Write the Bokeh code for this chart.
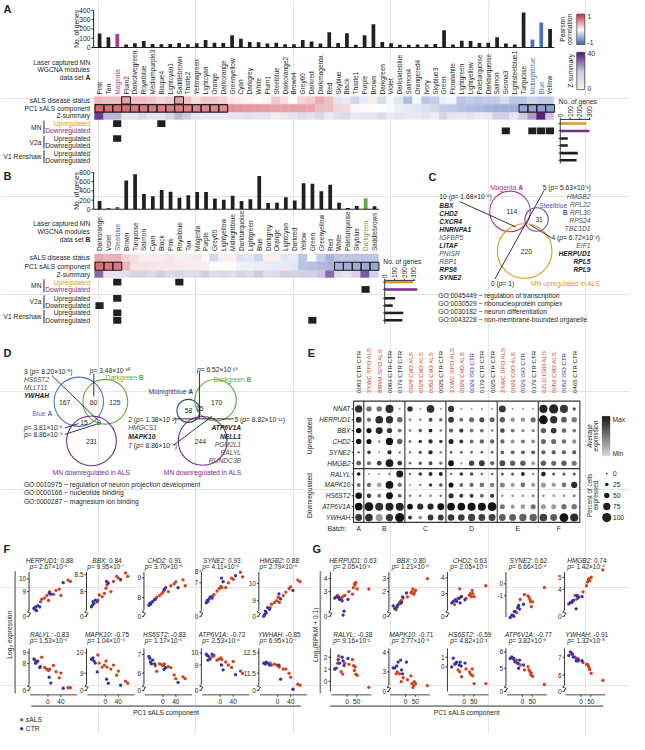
import numpy as np
from bokeh.plotting import figure
from bokeh.models import Range1d, ColumnDataSource, LinearInterpolator
from bokeh.transform import linear_cmap, transform
from bokeh.core.properties import value
from bokeh.embed import file_html
from bokeh.resources import INLINE

# ======================= DATA =======================
modules_A = ["Pink","Tan","Magenta","Plum2","Darkolivegreen","Royalblue","Mediumpurple3","Bisque4","Lightcyan1","Saddlebrown","Thistle2","Yellowgreen","Lightcyan","Orange","Darkorange","Greenyellow","Cyan","Darkgrey","White","Plum1","Steelblue","Darkorange2","Brown4","Grey60","Darkred","Darkmagenta","Red","Skyblue","Black","Thistle1","Purple","Brown","Darkgreen","Violet","Darkslateblue","Salmon4","Orangered4","Ivory","Skyblue3","Green","Floralwhite","Lightgreen","Lightyellow","Paleturquoise","Darkturquoise","Salmon","Sienna3","Lightsteelblue1","Turquoise","Midnightblue","Blue","Yellow"]
genes_A = [150,111,146,31,45,70,38,35,38,49,35,45,80,52,49,132,94,59,56,42,52,35,35,80,63,42,163,49,153,28,132,250,59,45,28,28,31,31,38,184,31,73,70,49,52,111,42,31,376,87,268,198]
pc1_A = [0.72,0.71,0.70,0.68,0.67,0.66,0.65,0.64,0.63,0.62,0.61,0.60,0.59,0.58,0.57,0.52,0.50,0.49,0.48,0.47,0.46,0.45,0.44,0.43,0.42,0.32,0.30,0.20,0.18,0.05,0.03,0.02,0.00,-0.04,-0.10,-0.13,-0.16,-0.19,-0.24,-0.30,-0.33,-0.38,-0.40,-0.42,-0.45,-0.47,-0.48,-0.50,-0.55,-0.56,-0.57,-0.58]
sals_A = [0.35,0.30,0.30,0.45,0.30,0.30,0.28,0.20,0.25,0.45,0.30,0.15,0.25,0.25,0.22,0.12,0.08,0.05,0.02,0.05,0.25,0.15,0.02,0.20,0.25,0.40,0.30,-0.15,-0.12,-0.25,-0.12,0.10,-0.20,-0.05,-0.15,-0.40,-0.05,-0.35,-0.30,-0.10,-0.05,-0.35,-0.30,-0.35,-0.30,-0.30,-0.20,-0.35,-0.35,-0.25,-0.30,-0.30]
zsum_A = [35,22,22,8,8,12,8,8,14,22,18,8,6,6,6,7,8,9,7,8,3,5,8,12,9,13,6,9,10,6,7,7,10,5,7,6,6,8,5,14,8,6,8,5,6,16,16,7,18,25,38,20]
squares_A = [[2, 7], [46, 49, 50, 51], [2], [], [], []]
box_pc1_A = list(range(15)) + [48, 49, 50, 51]
box_sals_A = [3, 9]
counts_A = [267, 300, 77, 77, 180, 167]

modules_B = ["Darkorange","Violet","Steelblue","Brown","Turquoise","Salmon","Cyan","Black","Pink","Royalblue","Tan","Magenta","Purple","Grey60","Lightyellow","Midnightblue","Darkturquoise","Lightgreen","Blue","Darkgrey","Orange","Lightcyan","Darkred","Yellow","Green","Greenyellow","Red","White","Paleturquoise","Skyblue","Darkgreen","Saddlebrown"]
genes_B = [177,21,50,624,759,333,284,418,383,248,305,376,376,234,206,291,177,220,723,135,142,262,191,567,553,390,532,142,28,71,241,64]
pc1_B = [0.68,0.67,0.66,0.35,0.15,0.14,0.13,0.12,0.12,0.11,0.10,0.10,0.08,0.03,0.02,-0.02,-0.08,-0.09,-0.10,-0.11,-0.12,-0.13,-0.15,-0.36,-0.38,-0.42,-0.45,-0.48,-0.49,-0.50,-0.51,-0.52]
sals_B = [0.40,0.35,0.38,0.20,0.15,0.10,0.10,0.10,0.12,-0.08,0.10,0.12,0.02,-0.22,0.10,0.08,-0.18,-0.15,-0.25,0.08,0.08,-0.15,-0.12,-0.35,-0.02,-0.30,-0.45,-0.35,-0.35,-0.35,-0.35,-0.35]
zsum_B = [30,8,8,10,14,14,12,16,12,14,10,12,16,10,12,10,14,12,18,10,10,16,14,16,16,20,30,12,8,14,32,16]
squares_B = [[2, 9], [30], [2], [0], [2], [2, 24]]
box_pc1_B = [0, 1, 2, 27, 28, 29, 30, 31]
counts_B = [290, 334, 107, 82, 190, 180]

E_samples = ["0083 CTR CTR","2XWC SPO ALS","88RM SPO ALS","0083 CTR CTR","0179 CTR CTR","0028 C9O ALS","0028 C9O ALS","0052 C9O ALS","0025 CTR CTR","2XWC SPO ALS","0029 C9O ALS","0029 ISO CTR","0179 CTR CTR","0025 CTR CTR","2XWC SPO ALS","0029 C9O ALS","0029 ISO CTR","0179 CTR CTR","6ZLD C9O ALS","0052 C9O ALS","0052 ISO CTR","0465 CTR CTR"]
E_batches = ["A", "B", "C", "D", "E", "F"]
E_batch_sizes = [1, 4, 4, 5, 4, 4]
E_genes = ["NNAT","HERPUD1","BBX","CHD2","SYNE2","HMGB2","RALYL","MAPK10","HS6ST2","ATP6V1A","YWHAH"]
E_pct = {
 "NNAT":   [75,50,50,85,5,50,5,80,5,60,5,5,5,5,70,5,5,5,85,100,85,20],
 "HERPUD1":[55,35,80,75,50,15,15,30,25,55,30,45,45,45,50,35,35,45,95,75,55,50],
 "BBX":    [50,45,70,50,30,15,25,30,15,35,35,30,30,15,40,30,20,20,50,55,40,30],
 "CHD2":   [50,45,10,75,50,15,25,35,25,45,30,30,35,35,35,30,30,30,45,45,40,35],
 "SYNE2":  [10,25,5,35,10,10,20,35,10,15,15,15,15,15,30,30,30,30,35,35,35,35],
 "HMGB2":  [40,30,40,80,40,15,25,30,20,55,10,50,55,35,55,50,50,30,50,45,50,45],
 "RALYL":  [25,5,5,15,70,10,25,30,30,10,25,25,15,15,20,20,30,10,40,20,20,20],
 "MAPK10": [30,35,40,80,35,5,10,25,25,45,30,35,40,35,45,35,40,35,45,35,40,60],
 "HS6ST2": [65,40,30,70,30,10,10,10,10,45,30,30,30,35,10,10,10,15,10,10,10,15],
 "ATP6V1A":[80,95,85,85,85,55,60,60,70,80,80,85,85,95,45,35,40,45,45,45,50,50],
 "YWHAH":  [70,80,75,75,100,30,30,55,55,65,65,75,70,70,70,70,75,75,80,70,95,85]}
E_expr = {
 "NNAT":   [0.85,0.5,0.5,0.85,0.3,0.85,0.3,0.85,0.3,0.8,0.3,0.3,0.3,0.3,0.8,0.3,0.3,0.3,0.9,0.9,0.8,0.7],
 "HERPUD1":[0.85,0.5,0.85,0.85,0.55,0.35,0.35,0.7,0.55,0.8,0.5,0.55,0.7,0.6,0.6,0.35,0.35,0.55,1.0,0.85,0.6,0.45],
 "BBX":    [1.0,1.0,0.9,0.8,0.5,0.4,0.6,0.9,0.4,0.6,0.8,0.5,0.5,0.4,0.7,0.5,0.4,0.4,0.6,0.8,0.55,0.45],
 "CHD2":   [1.0,1.0,0.4,1.0,0.6,0.5,0.8,0.85,0.8,0.9,0.8,0.55,0.6,0.6,0.55,0.35,0.5,0.35,0.55,0.55,0.5,0.35],
 "SYNE2":  [0.6,0.8,0.3,0.9,0.5,0.5,0.7,0.9,0.5,0.6,0.6,0.6,0.6,0.6,0.6,0.6,0.6,0.6,0.6,0.6,0.6,0.6],
 "HMGB2":  [0.6,0.5,0.8,0.95,0.8,0.5,0.6,0.7,0.5,1.0,0.3,0.75,0.8,0.55,0.7,0.6,0.6,0.3,0.6,0.55,0.6,0.5],
 "RALYL":  [1.0,0.3,0.3,0.4,0.95,0.5,0.8,0.9,0.9,0.5,0.8,0.7,0.5,0.5,0.6,0.6,0.85,0.4,0.9,0.6,0.6,0.6],
 "MAPK10": [0.5,0.55,0.25,1.0,0.5,0.3,0.4,0.8,0.7,1.0,0.55,0.55,0.5,0.5,0.4,0.3,0.5,0.3,0.3,0.3,0.5,0.85],
 "HS6ST2": [1.0,0.8,0.5,1.0,0.55,0.5,0.5,0.5,0.5,0.85,0.8,0.8,0.55,0.8,0.4,0.4,0.4,0.5,0.4,0.4,0.4,0.5],
 "ATP6V1A":[1.0,1.0,0.85,0.9,0.9,1.0,0.85,0.9,1.0,1.0,1.0,1.0,1.0,1.0,0.5,0.3,0.3,0.5,0.3,0.3,0.5,0.5],
 "YWHAH":  [0.8,0.85,0.3,0.8,1.0,0.8,0.3,0.8,0.8,0.8,0.8,0.75,0.75,0.75,0.6,0.6,0.6,0.6,0.75,0.6,1.0,0.85]}
E_size_legend = [0, 25, 50, 75, 100]

scatter_genes = ["HERPUD1","BBX","CHD2","SYNE2","HMGB2","RALYL","MAPK10","HS6ST2","ATP6V1A","YWHAH"]
F_r = [0.88, 0.84, 0.91, 0.93, 0.88, -0.83, -0.75, -0.83, -0.72, -0.85]
F_p = ["2.67×10⁻⁶","9.95×10⁻⁷","3.70×10⁻⁶","4.11×10⁻⁶","2.79×10⁻⁶","1.53×10⁻⁶","1.04×10⁻⁴","1.17×10⁻⁶","2.53×10⁻⁴","6.95×10⁻⁷"]
F_ticks = [[10, 9], [8.5, 8], [9, 8], [8, 7], [10, 9], [9, 8], [10, 9], [7, 6], [10, 9], [12.5, 11.5]]
F_ctr_x = [-43, -40, -38, -35, -31, -25, 4, 9, 47]
F_als_x = [-23, -19, -10, -3, 2, 5, 17, 25, 35, 40, 62, 69]
F_ctr_y = {
 "HERPUD1":[7.7,7.6,7.8,7.5,7.9,7.8,8.9,8.8,9.7], "BBX":[7.55,7.6,7.7,7.65,7.75,7.7,8.3,8.25,8.35],
 "CHD2":[7.6,7.7,7.65,7.75,7.8,7.9,8.4,8.5,8.5], "SYNE2":[5.3,5.5,5.4,5.6,5.8,5.7,7.4,7.1,7.6],
 "HMGB2":[8.1,8.2,8.4,8.3,8.6,8.5,9.4,9.1,9.6], "RALYL":[8.44,8.31,8.0,8.12,8.22,7.6,6.66,6.1,5.6],
 "MAPK10":[9.7,9.68,9.76,9.6,9.5,9.06,8.7,8.5,8.4], "HS6ST2":[6.9,6.8,6.6,6.5,6.7,6.5,6.2,6.3,5.5],
 "ATP6V1A":[9.9,9.8,9.4,9.7,9.5,9.9,9.0,8.6,8.2], "YWHAH":[12.0,12.0,11.95,12.05,12.0,11.9,11.9,11.2,10.7]}
F_als_y = {
 "HERPUD1":[8.2,8.4,8.5,8.7,8.3,9.0,8.8,9.1,9.2,8.7,9.9,9.8], "BBX":[7.75,7.9,7.85,7.95,8.1,8.2,8.0,8.3,8.45,8.4,8.55,8.45],
 "CHD2":[7.9,8.0,8.1,8.2,8.3,8.4,8.3,8.6,8.7,8.8,8.9,8.6], "SYNE2":[5.9,6.0,6.3,6.5,6.7,6.6,6.6,7.0,7.4,7.3,7.9,7.5],
 "HMGB2":[8.6,8.8,8.9,9.0,9.2,8.9,9.3,9.5,9.7,9.8,10.2,10.1], "RALYL":[7.7,8.6,7.6,7.44,7.3,7.44,7.8,7.2,6.6,7.06,5.65,5.65],
 "MAPK10":[9.9,9.5,9.3,9.4,9.6,9.3,9.2,9.4,8.9,9.1,8.6,8.5], "HS6ST2":[6.4,6.1,6.5,6.45,6.4,6.5,6.35,6.3,5.9,5.7,5.8,5.7],
 "ATP6V1A":[9.7,9.8,9.4,9.5,9.6,9.45,9.25,9.0,8.8,9.3,8.5,8.3], "YWHAH":[12.0,11.9,11.95,11.9,11.85,11.8,11.7,11.7,11.5,11.3,10.95,10.9]}

G_r = [0.63, 0.80, 0.63, 0.62, 0.74, -0.38, -0.71, -0.59, -0.77, -0.91]
G_p = ["2.05×10⁻³","1.21×10⁻⁵","2.05×10⁻³","6.66×10⁻⁴","1.42×10⁻⁴","9.16×10⁻²","2.77×10⁻⁴","4.82×10⁻³","3.82×10⁻⁵","1.32×10⁻⁸"]
G_ticks = [[4, 3], [3, 2], [4, 3], [0, -1], [5, 4], [2, 1, 0], [4, 3], [1, 0], [6, 5], [7, 6]]
G_ctr_x = [-63, -55, -45, -38, -25, -20, -15, 5]
G_als_x = [-48, -42, -30, -22, -12, 10, 28, 33, 38, 42, 45, 52, 112]
G_ctr_y = {
 "HERPUD1":[2.5,2.6,2.55,2.4,2.3,1.2,1.5,2.4], "BBX":[0.9,0.7,0.8,1.0,1.1,1.2,1.6,1.9],
 "CHD2":[2.4,2.5,2.6,2.5,2.7,2.4,2.8,2.6], "SYNE2":[-2.8,-2.6,-2.7,-2.3,-2.0,-1.8,-2.1,-1.7],
 "HMGB2":[2.8,2.9,3.0,3.1,2.4,3.5,3.3,3.4], "RALYL":[1.0,1.1,1.8,1.5,2.0,1.7,1.3,1.9],
 "MAPK10":[3.2,3.2,3.3,3.5,3.6,3.1,2.9,3.5], "HS6ST2":[0.0,0.9,0.3,0.5,0.2,0.5,0.1,0.4],
 "ATP6V1A":[5.6,5.7,5.6,5.4,5.3,5.0,5.5,5.2], "YWHAH":[7.1,7.3,7.2,7.0,6.8,6.8,6.9,6.8]}
G_als_y = {
 "HERPUD1":[2.7,2.6,2.5,2.6,2.7,3.0,2.8,3.3,3.6,3.5,3.7,3.2,3.2], "BBX":[0.6,0.9,1.2,1.3,1.5,1.6,1.9,2.0,2.2,1.8,1.9,2.1,3.0],
 "CHD2":[2.3,2.6,2.7,3.3,2.8,2.7,2.9,3.0,2.8,3.2,3.0,2.8,3.5], "SYNE2":[-2.6,-2.3,-2.4,-1.9,-1.3,-0.9,-1.0,-1.1,-1.3,-1.5,-1.9,-1.5,-0.3],
 "HMGB2":[2.9,3.1,3.5,3.2,3.4,3.8,4.3,4.6,4.8,4.9,4.7,5.0,5.6], "RALYL":[1.5,2.1,0.8,0.6,1.5,1.4,1.8,1.3,0.9,1.2,0.6,0.5,-0.5],
 "MAPK10":[2.9,3.0,2.9,2.5,2.7,2.6,2.8,2.4,2.2,2.3,2.5,2.4,2.3], "HS6ST2":[0.3,0.4,-0.3,-0.5,-1.0,-0.2,-0.5,-0.7,-0.8,-0.2,-0.9,-1.7,-1.7],
 "ATP6V1A":[5.6,5.5,5.5,5.3,5.2,4.9,5.1,4.9,4.8,4.6,4.7,4.5,4.0], "YWHAH":[7.2,7.1,7.0,6.9,6.8,6.7,6.6,6.6,6.5,6.4,6.3,6.1,5.7]}

# ======================= STYLE =======================
FONT = value("Liberation Sans")
FS = 6.7
LET = 11
INK = "#231f20"
GREYTXT = "#4d4d4d"
ORANGE = "#d99a22"
PURPLE = "#7b2a8e"
MAG = "#b23a8e"
SBL = "#5652b0"
BLUEA = "#4a72c4"
NAVY = "#2e3f82"
GRN = "#68a83c"
RED_PT = "#d2401f"
BLUE_PT = "#3434a8"
UX = 645.0 / 629.0


def ramp(stops, n=256):
    out = []
    k = len(stops) - 1
    for i in range(n):
        t = i / (n - 1) * k
        j = min(int(t), k - 1)
        f = t - j
        c = [int(round(stops[j][m] + (stops[j + 1][m] - stops[j][m]) * f)) for m in range(3)]
        out.append("#%02x%02x%02x" % tuple(c))
    return out


RWB = ramp([(59, 91, 176), (255, 255, 255), (200, 48, 63)])
PUR = ramp([(246, 246, 246), (205, 195, 225), (72, 18, 118)])
GRY = ramp([(214, 214, 214), (18, 18, 18)])

p = figure(width=629, height=734, x_range=Range1d(0, 645), y_range=Range1d(750, 0),
           output_backend="svg", toolbar_location=None, min_border=0,
           x_axis_location=None, y_axis_location=None)
p.outline_line_color = None
p.background_fill_color = "white"

CW = {'A':667,'B':667,'C':722,'D':722,'E':667,'F':611,'G':778,'H':722,'I':278,'J':500,'K':667,'L':556,'M':833,'N':722,'O':778,'P':667,'Q':778,'R':722,'S':667,'T':611,'U':722,'V':667,'W':944,'X':667,'Y':667,'Z':611,
      'a':556,'b':556,'c':500,'d':556,'e':556,'f':278,'g':556,'h':556,'i':222,'j':222,'k':500,'l':222,'m':833,'n':556,'o':556,'p':556,'q':556,'r':333,'s':500,'t':278,'u':556,'v':500,'w':722,'x':500,'y':500,'z':500,
      ' ':278,':':278,'.':278,'-':333,'(':333,')':333,'=':584,'×':584,'~':584,'+':584}


def tw(s, size):
    w = 0
    for ch in s:
        if ch in CW:
            w += CW[ch]
        elif ch.isdigit() and ch.isascii():
            w += 556
        else:
            w += 360
    return w * size / 1000.0


def Tx(g, x, y, t, size=FS, align="left", base="middle", color=INK, style="normal", angle=0.0):
    if isinstance(t, str):
        x, y, t = [x], [y], [t]
    n = len(t)
    cols = list(color) if isinstance(color, list) else [color] * n
    src = ColumnDataSource(dict(x=[float(v) for v in x], y=[float(v) for v in y], t=list(t), c=cols))
    g.text(x="x", y="y", text="t", source=src, text_font=FONT, text_font_size=f"{size}px",
           text_align=align, text_baseline=base, text_color="c", text_font_style=style, angle=angle)


def rich(parts, x, y, align="left", size=FS):
    widths = [tw(t, size) * (1.07 if "bold" in st else 1.0) * UX for t, st, c in parts]
    total = sum(widths)
    start = x if align == "left" else (x - total / 2 if align == "center" else x - total)
    for (t, st, c), w in zip(parts, widths):
        Tx(p, start, y, t, size=size, style=st, color=c)
        start += w


def seg(pts, color=INK, width=1.0):
    p.segment(x0=[a[0] for a in pts], y0=[a[1] for a in pts], x1=[a[2] for a in pts], y1=[a[3] for a in pts],
              line_color=color, line_width=width)


def ident(xs, xt):
    return p.subplot(x_source=Range1d(*xs), x_target=Range1d(*xt), y_source=Range1d(0, 750), y_target=Range1d(0, 750))


def gradient(x0, x1, ytop, ybot, lo, hi, pal, border=True):
    n = 64
    step = (hi - lo) / n
    bot = [lo + i * step for i in range(n)]
    g = p.subplot(x_source=Range1d(0, 1), x_target=Range1d(x0, x1), y_source=Range1d(lo, hi), y_target=Range1d(ybot, ytop))
    src = ColumnDataSource(dict(b=bot, t=[b + step for b in bot], m=[b + step / 2 for b in bot]))
    cm = linear_cmap("m", pal, lo, hi)
    g.quad(left=0, right=1, bottom="b", top="t", source=src, fill_color=cm, line_color=cm, line_width=0.4)
    if border:
        g.quad(left=[0], right=[1], bottom=[lo], top=[hi], fill_color=None, line_color="#555555", line_width=0.8)


# ======================= PANELS A / B =======================
def module_panel(mods, genes, gmax, gticks, pc1, sals, zs, squares, box_pc1, box_sals, counts, hl, G):
    n = len(mods)
    idx = np.arange(n)
    x0, x1 = G["x0"], G["x1"]
    u = n / (x1 - x0)
    sb = p.subplot(x_source=Range1d(0, n), x_target=Range1d(x0, x1), y_source=Range1d(0, gmax), y_target=Range1d(G["b0"], G["b1"]))
    cols = [hl.get(m, INK) for m in mods]
    sb.quad(left=idx + 0.3, right=idx + 0.72, bottom=[0] * n, top=genes, fill_color=cols, line_color=None)
    axx = -1.5 * u
    sb.segment(x0=[axx, axx], y0=[0, 0], x1=[axx, n], y1=[gmax, 0], line_color=INK, line_width=1)
    sb.segment(x0=[axx - 2.2 * u] * len(gticks), y0=gticks, x1=[axx] * len(gticks), y1=gticks, line_color=INK, line_width=1)
    Tx(sb, [axx - 3.2 * u] * len(gticks), gticks, [str(t) for t in gticks], align="right")
    Tx(p, G["ylab_x"], (G["b0"] + G["b1"]) / 2, "No. of genes", angle=np.pi / 2, align="center")

    sh = ident((0, n), (x0, x1))
    Tx(sh, idx + 0.5, [G["lab_y"]] * n, mods, size=6.5, angle=np.pi / 2, align="left", color=cols)
    (s0, s1), (c0, c1), (z0, z1) = G["rows"]
    src = ColumnDataSource(dict(l=idx, r=idx + 1, s=sals, c=pc1, z=zs))
    cs = linear_cmap("s", RWB, -1, 1)
    cc = linear_cmap("c", RWB, -1, 1)
    cz = linear_cmap("z", PUR, 0, 40)
    sh.quad(left="l", right="r", top=s0, bottom=s1, source=src, fill_color=cs, line_color=cs, line_width=0.4)
    sh.quad(left="l", right="r", top=c0, bottom=c1, source=src, fill_color=cc, line_color=cc, line_width=0.4)
    sh.quad(left="l", right="r", top=z0, bottom=z1, source=src, fill_color=cz, line_color=cz, line_width=0.4)
    sh.quad(left=box_pc1, right=[i + 1 for i in box_pc1], top=c0 + 0.4, bottom=c1 - 0.4, fill_color=None, line_color=INK, line_width=1.1)
    if box_sals:
        sh.quad(left=box_sals, right=[i + 1 for i in box_sals], top=s0 + 0.4, bottom=s1 - 0.2, fill_color=None, line_color=INK, line_width=1.1)
    for r, lst in enumerate(squares):
        if lst:
            t, b = G["sq"][r]
            sh.quad(left=[i + 0.04 for i in lst], right=[i + 0.96 for i in lst], top=t + 0.3, bottom=b - 0.3, fill_color=INK, line_color=None)

    # left labels
    hx = 92
    Tx(p, [hx, hx], G["head_y"][:2], ["Laser captured MN", "WGCNA modules"], align="right")
    rich([("data set ", "normal", INK), (G["set"], "bold", INK)], hx, G["head_y"][2], align="right")
    Tx(p, [hx] * 3, [(a + b) / 2 for a, b in G["rows"]], ["sALS disease status", "PC1 sALS component", "Z-summary"], align="right")
    centers = [(a + b) / 2 for a, b in G["sq"]]
    Tx(p, [hx] * 6, centers, ["Upregulated", "Downregulated"] * 3, align="right",
       color=[ORANGE, PURPLE, INK, INK, INK, INK])
    for k, name in enumerate(["MN", "V2a", "V1 Renshaw"]):
        t = G["sq"][2 * k][0]
        b = G["sq"][2 * k + 1][1]
        Tx(p, 42, (t + b) / 2, name, align="right")
        seg([(44.6, t + 0.8, 44.6, b - 0.8)], color="#555555", width=1.3)
    Tx(p, 3, G["letter_y"], G["set"], size=LET, style="bold")

    # no. of genes mini chart
    C = G["cnt"]
    sc = ident((0, 300), (C["x0"], C["x0"] + 30))
    bcols = [ORANGE, PURPLE, INK, INK, INK, INK]
    sc.quad(left=[0] * 6, right=counts, top=[c - 1.3 for c in centers], bottom=[c + 1.3 for c in centers], fill_color=bcols, line_color=None)
    tk = [0, 100, 200, 300]
    sc.segment(x0=[0], y0=[C["ay"]], x1=[310], y1=[C["ay"]], line_color=INK, line_width=0.9)
    sc.segment(x0=[0], y0=[C["ay"]], x1=[0], y1=[centers[-1] + 3.5], line_color=INK, line_width=0.9)
    sc.segment(x0=tk, y0=[C["ay"] - 1.8] * 4, x1=tk, y1=[C["ay"]] * 4, line_color=INK, line_width=0.9)
    sc.segment(x0=[-18] * 6, y0=centers, x1=[0] * 6, y1=centers, line_color=INK, line_width=0.9)
    Tx(sc, tk, [C["ay"] - 2.5] * 4, [str(t) for t in tk], angle=np.pi / 2, align="left", size=6.5)
    Tx(p, C["x0"] + 18, C["ty"], "No. of genes", align="center")


GA = dict(set="A", letter_y=9, x0=97, x1=568, b0=48, b1=10, ylab_x=78, lab_y=96,
          rows=[(98, 106), (106, 114.5), (114.5, 121.5)],
          sq=[(122, 129.5), (129.5, 137), (137.3, 144.6), (144.6, 151.9), (152.3, 159.6), (159.6, 166.9)],
          head_y=[63.3, 71, 78.5], cnt=dict(x0=574, ay=121.5, ty=103))
GB = dict(set="B", letter_y=179, x0=97, x1=388, b0=213.3, b1=175.7, ylab_x=78, lab_y=256,
          rows=[(259, 267), (267, 276), (276, 283)],
          sq=[(284, 291.5), (291.5, 299), (300.5, 308), (308, 315.5), (315.5, 323), (323, 330.5)],
          head_y=[228.3, 236, 243.7], cnt=dict(x0=394, ay=286, ty=267))

module_panel(modules_A, genes_A, 400, [0, 100, 200, 300, 400], pc1_A, sals_A, zsum_A, squares_A, box_pc1_A, box_sals_A,
             counts_A, {"Magenta": MAG, "Midnightblue": BLUEA, "Blue": BLUEA}, GA)
module_panel(modules_B, genes_B, 800, [0, 200, 400, 600, 800], pc1_B, sals_B, zsum_B, squares_B, box_pc1_B, [],
             counts_B, {"Steelblue": SBL, "Darkgreen": GRN}, GB)

# color bars for A
gradient(591, 599, 14, 45, -1, 1, RWB)
Tx(p, [602, 602], [16, 43], ["1", "-1"])
Tx(p, [576, 583.5], [29.5, 29.5], ["Pearson", "correlation"], angle=np.pi / 2, align="center")
gradient(591, 599, 53, 91, 0, 40, PUR)
Tx(p, [602, 602], [54.5, 90], ["40", "0"])
Tx(p, 584.5, 72, "Z-summary", angle=np.pi / 2, align="center")

# ======================= PANEL C =======================
Tx(p, 439, 180, "C", size=LET, style="bold")
p.circle(x=[522.5, 549.7, 537.5], y=[215.5, 223.8, 256], radius=[20.8, 12, 28], fill_color=None,
         line_color=[MAG, SBL, ORANGE], line_width=1.1)
Tx(p, [524.3, 552.3, 539.3], [215.7, 223.3, 256], ["114", "31", "220"], align="center")
rich([("Magenta ", "normal", MAG), ("A", "bold", MAG)], 519, 191, align="center")
Tx(p, 552.5, 209, "Steelblue", color=SBL)
Tx(p, 579, 216.8, "B", color=SBL, style="bold", align="center")
rich([("5 (", "normal", INK), ("p", "italic", INK), (" = 5.63×10⁻³)", "normal", INK)], 556, 191)
Tx(p, [605] * 5, [200, 208.3, 216.5, 224.7, 233], ["HMGB2", "RPL22", "RPL30", "RPS24", "TBC1D1"], align="right", style="italic", color=GREYTXT)
rich([("4 (", "normal", INK), ("p", "italic", INK), (" = 6.72×10⁻³)", "normal", INK)], 565, 242.3)
Tx(p, [605], [250.5], ["EIF1"], align="right", style="italic", color=GREYTXT)
Tx(p, [605] * 3, [258.7, 267, 275.3], ["HERPUD1", "RPL5", "RPL9"], align="right", style="bold italic")
rich([("10 (", "normal", INK), ("p", "italic", INK), (" = 1.68×10⁻⁶)", "normal", INK)], 450, 200.7)
C_left = ["BBX", "CHD2", "CXCR4", "HNRNPA1", "IGFBP5", "LITAF", "PNISR", "RBP1", "RPS6", "SYNE2"]
C_bold = [1, 1, 1, 1, 0, 1, 0, 0, 1, 1]
for k, gname in enumerate(C_left):
    Tx(p, 450, 209 + 8.25 * k, gname, style="bold italic" if C_bold[k] else "italic", color=INK if C_bold[k] else GREYTXT)
rich([("0 (", "normal", INK), ("p", "italic", INK), (" = 1)", "normal", INK)], 503, 289.3)
Tx(p, 544, 289.3, "MN upregulated in ALS", color=ORANGE)
seg([(471, 205.5, 528.5, 231.5), (557.5, 194, 507, 284.5), (565, 242.5, 543.5, 229.5)], width=0.9)
Tx(p, [449] * 4, [301.3, 309.5, 317.7, 326],
   ["GO:0045449 ~ regulation of transcription", "GO:0030529 ~ ribonucleoprotein complex",
    "GO:0030182 ~ neuron differentiation", "GO:0043228 ~ non-membrane-bounded organelle"])

# ======================= PANEL D =======================
Tx(p, 3, 360, "D", size=LET, style="bold")
p.circle(x=[80.3, 107.5, 93.3, 192.7, 220.5, 207.3], y=[410, 410, 450, 419.3, 408.5, 450],
         radius=[25.3, 23, 25.5, 11.8, 21.3, 25], fill_color=None,
         line_color=[BLUEA, GRN, PURPLE, NAVY, GRN, PURPLE], line_width=1.1)
Tx(p, [65.7, 95.5, 117.3, 85.7, 101, 93.3, 192.7, 204.3, 221.7, 205],
   [411, 411, 411, 430.7, 430.7, 450.7, 419.3, 416.7, 411, 450.7],
   ["167", "60", "125", "15", "9", "231", "58", "15", "170", "244"], align="center")
rich([("3 (", "normal", INK), ("p", "italic", INK), (" = 8.20×10⁻⁵)", "normal", INK)], 24, 379.3)
Tx(p, [24, 24], [387.7, 395.7], ["HS6ST2", "MLLT11"], style="italic", color=GREYTXT)
Tx(p, 24, 403.5, "YWHAH", style="bold italic")
rich([("p", "italic", INK), (" = 3.48×10⁻⁶⁰", "normal", INK)], 91.5, 377.7)
rich([("Darkgreen ", "normal", GRN), ("B", "bold", GRN)], 108, 385.5)
rich([("Blue ", "normal", BLUEA), ("A", "bold", BLUEA)], 32.5, 421.7)
rich([("p", "italic", INK), (" = 3.81×10⁻⁶", "normal", INK)], 24, 436.7)
rich([("p", "italic", INK), (" = 8.86×10⁻⁴", "normal", INK)], 24, 443.3)
seg([(53, 383.5, 100, 429), (95.7, 381, 95.7, 404.5), (66, 436.7, 80, 432.3), (66, 443.3, 100, 432.5)], width=0.9)
rich([("p", "italic", INK), (" = 6.52×10⁻¹⁹", "normal", INK)], 201.5, 377.3)
rich([("Darkgreen ", "normal", GRN), ("B", "bold", GRN)], 218.3, 387.3)
rich([("Midnightblue ", "normal", NAVY), ("A", "bold", NAVY)], 151.7, 399.3)
rich([("2 (", "normal", INK), ("p", "italic", INK), (" = 1.38×10⁻²)", "normal", INK)], 131, 427.7)
Tx(p, 131, 436.7, "HMGCS1", style="italic", color=GREYTXT)
Tx(p, 131, 445.7, "MAPK10", style="bold italic")
rich([("7 (", "normal", INK), ("p", "italic", INK), (" = 8.86×10⁻⁴)", "normal", INK)], 131, 455)
rich([("5 (", "normal", INK), ("p", "italic", INK), (" = 8.82×10⁻¹¹)", "normal", INK)], 240, 427.7)
Tx(p, [246.7, 246.7], [436.7, 445.7], ["ATP6V1A", "NELL1"], align="right", style="bold italic")
Tx(p, [246.7] * 3, [454, 461.8, 470], ["PGM2L1", "RALYL", "RUNDC3B"], align="right", style="italic", color=GREYTXT)
seg([(204, 380, 204, 427.5), (178, 427.5, 239, 427.5), (178, 454, 216.7, 425)], width=0.9)
Tx(p, [93.3, 207.3], [482.7, 482.7], ["MN downregulated in ALS", "MN downregulated in ALS"], align="center", color=PURPLE)
Tx(p, [24] * 3, [494.3, 503, 511.7], ["GO:0010975 ~ regulation of neuron projection development",
                                       "GO:0000166 ~ nucleotide binding", "GO:0000287 ~ magnesium ion binding"])

# ======================= PANEL E =======================
Tx(p, 315, 360, "E", size=LET, style="bold")
nE = len(E_samples)
se = p.subplot(x_source=Range1d(0, nE - 1), x_target=Range1d(367.3, 588.3), y_source=Range1d(0, len(E_genes) - 1), y_target=Range1d(417.3, 528.3))
sl = ident((0, nE - 1), (367.3, 588.3))
xs, ys, pc, ex = [], [], [], []
for gi, gname in enumerate(E_genes):
    for ci in range(nE):
        xs.append(ci); ys.append(gi); pc.append(E_pct[gname][ci]); ex.append(E_expr[gname][ci])
srcE = ColumnDataSource(dict(x=xs, y=ys, pct=pc, ex=ex))
size_map = LinearInterpolator(x=[0, 100], y=[1.7, 9.2])
se.scatter(x="x", y="y", source=srcE, size=transform("pct", size_map), fill_color=linear_cmap("ex", GRY, 0, 1), line_color=None)
se.quad(left=[-0.5], right=[21.55], top=[-0.72], bottom=[10.45], fill_color=None, line_color="#333333", line_width=1.1)
bounds = np.cumsum(E_batch_sizes)[:-1] - 0.5
se.segment(x0=bounds, y0=[-0.72] * len(bounds), x1=bounds, y1=[10.45] * len(bounds), line_color="#333333", line_width=1.1)
se.segment(x0=[-0.5], y0=[5.5], x1=[21.55], y1=[5.5], line_color="#333333", line_width=1.1)
se.segment(x0=[-0.68] * len(E_genes), y0=list(range(len(E_genes))), x1=[-0.5] * len(E_genes), y1=list(range(len(E_genes))), line_color=INK)
Tx(se, [-0.82] * len(E_genes), list(range(len(E_genes))), E_genes, align="right", style="italic", size=6.5)
lab_cols = [RED_PT if s.endswith("ALS") else (BLUE_PT if "ISO" in s else INK) for s in E_samples]
Tx(sl, list(range(nE)), [401] * nE, E_samples, angle=np.pi / 2, align="left", size=6.1, color=lab_cols)
starts = np.concatenate([[0], np.cumsum(E_batch_sizes)[:-1]])
bc = [s + (n - 1) / 2 for s, n in zip(starts, E_batch_sizes)]
Tx(sl, bc, [540] * len(bc), E_batches, align="center")
Tx(p, 345, 540, "Batch:", align="center")
Tx(p, [317, 317], [445, 505.8], ["Upregulated", "Downregulated"], angle=np.pi / 2, align="center")
gradient(617, 625, 425, 465, 0, 1, GRY, border=False)
Tx(p, [627.5, 627.5], [428, 462.5], ["Max", "Min"])
Tx(p, [603.5, 610], [445, 445], ["Average", "expression"], angle=np.pi / 2, align="center", size=6.4, style="italic")
sz = p.subplot(x_source=Range1d(0, 1), x_target=Range1d(621.7, 622.7), y_source=Range1d(0, 100), y_target=Range1d(483.3, 528.3))
srcS = ColumnDataSource(dict(x=[0] * 5, y=E_size_legend, pct=E_size_legend))
sz.scatter(x="x", y="y", source=srcS, size=transform("pct", size_map), fill_color=INK, line_color=None)
Tx(p, [628] * 5, [483.3, 494.3, 505.7, 516.7, 528.3], [str(v) for v in E_size_legend])
Tx(p, [603.5, 610], [505.8, 505.8], ["Percent of cells", "expressed"], angle=np.pi / 2, align="center", size=6.4)

# ======================= PANELS F / G =======================
def fmt(v):
    return ("%g" % v)


def scatter_panel(letter, lx, ax_list, xw, xsrc, xticks, ctr_x, als_x, ctr_y, als_y, rs, ps, ticks_all, tick_px, rows, toff, ylab, ylab_x, line_x, xline):
    Tx(p, lx, 560, letter, size=LET, style="bold")
    for k, gname in enumerate(scatter_genes):
        row, col = k // 5, k % 5
        ax = ax_list[col]
        R = rows[row]
        ticks = ticks_all[k]
        tpx = tick_px[k]
        sp = p.subplot(x_source=Range1d(*xsrc), x_target=Range1d(ax + 1, ax + 1 + xw),
                       y_source=Range1d(ticks[0], ticks[-1]), y_target=Range1d(tpx[0], tpx[-1]))
        sp.scatter(x=als_x, y=als_y[gname], size=3.3, fill_color=RED_PT, line_color=None)
        sp.scatter(x=ctr_x, y=ctr_y[gname], size=3.3, fill_color=BLUE_PT, line_color=None)
        brk = 0 not in ticks
        if brk:
            z = R["zero"]
            p.line(x=[ax, ax, ax - 1.8, ax + 1.8, ax, ax], y=[R["top"], z - 6, z - 4.5, z - 3, z - 1.5, z], line_color=INK, line_width=0.9)
            seg([(ax - 2, z, ax, z)], width=0.9)
            Tx(p, ax - 3, z, "0", align="right", size=6.5)
        else:
            p.line(x=[ax, ax], y=[R["top"], R["bottom"]], line_color=INK, line_width=0.9)
        seg([(ax - 2, ty, ax, ty) for ty in tpx], width=0.9)
        Tx(p, [ax - 3] * len(ticks), tpx, [fmt(t) for t in ticks], align="right", size=6.5)
        c = ax + toff
        r = rs[k]
        rich([(gname, "italic", INK), (": %.2f" % r, "normal", INK)], c, R["ty"], align="center", size=6.5)
        rich([("p", "italic", INK), (" = " + ps[k], "normal", INK)], c, R["py"], align="center", size=6.5)
        if row == 1:
            sx = ident(xsrc, (ax + 1, ax + 1 + xw))
            sx.segment(x0=[xsrc[0]], y0=[709.5], x1=[xsrc[1]], y1=[709.5], line_color=INK, line_width=0.8)
            sx.segment(x0=xticks, y0=[709.5] * len(xticks), x1=xticks, y1=[711.5] * len(xticks), line_color=INK, line_width=0.8)
            Tx(sx, xticks, [716] * len(xticks), [str(t) for t in xticks], align="center", size=6.5)
    Tx(p, ylab_x, 648, ylab, angle=np.pi / 2, align="center")
    seg([(line_x, 583, line_x, 708)], color="#8a8a8a", width=1.6)
    seg([(xline[0], 721, xline[1], 721)], color="#8a8a8a", width=1.6)
    Tx(p, (xline[0] + xline[1]) / 2, 727.5, "PC1 sALS component", align="center")


F_px = [[591, 604], [586.7, 604], [590, 610], [583, 595], [595.7, 613.3],
        [666.7, 677.3], [666.7, 687.3], [668.3, 687.3], [666.7, 679], [666.7, 687.3]]
G_px = [[590.7, 604], [590.7, 604], [590, 606], [596, 608.3], [589.3, 601.7],
        [671, 683.3, 695.6], [666, 686], [671, 681], [665.7, 682.3], [671, 689.3]]
rowsF = [dict(top=584, zero=629.3, bottom=630, ty=571.7, py=578.3), dict(top=662, zero=705, bottom=706, ty=647.7, py=654)]
rowsG = [dict(top=584, zero=629.3, bottom=630, ty=571.7, py=578.3), dict(top=662, zero=706, bottom=706, ty=647.7, py=654)]
scatter_panel("F", 3, [29.3 + 58.9 * k for k in range(5)], 48.3, (-55, 90), [0, 40], F_ctr_x, F_als_x, F_ctr_y, F_als_y,
              F_r, F_p, F_ticks, F_px, rowsF, 21, "Log₂ expression", 9.5, 15, (31.5, 308))
scatter_panel("G", 320, [338.3 + 60 * k for k in range(5)], 41, (-80, 125), [0, 50], G_ctr_x, G_als_x, G_ctr_y, G_als_y,
              G_r, G_p, G_ticks, G_px, rowsG, 23, "Log₂(RPKM + 0.1)", 322.5, 328, (338, 618))

# legend F
lg = p.subplot(x_source=Range1d(0, 1), x_target=Range1d(21.7, 22.7), y_source=Range1d(0, 1), y_target=Range1d(735, 744))
lg.scatter(x=[0, 0], y=[0, 1], size=3.3, fill_color=[RED_PT, BLUE_PT], line_color=None)
Tx(p, [26, 26], [735, 744], ["sALS", "CTR"])

open("out.html", "w").write(file_html(p, INLINE))
